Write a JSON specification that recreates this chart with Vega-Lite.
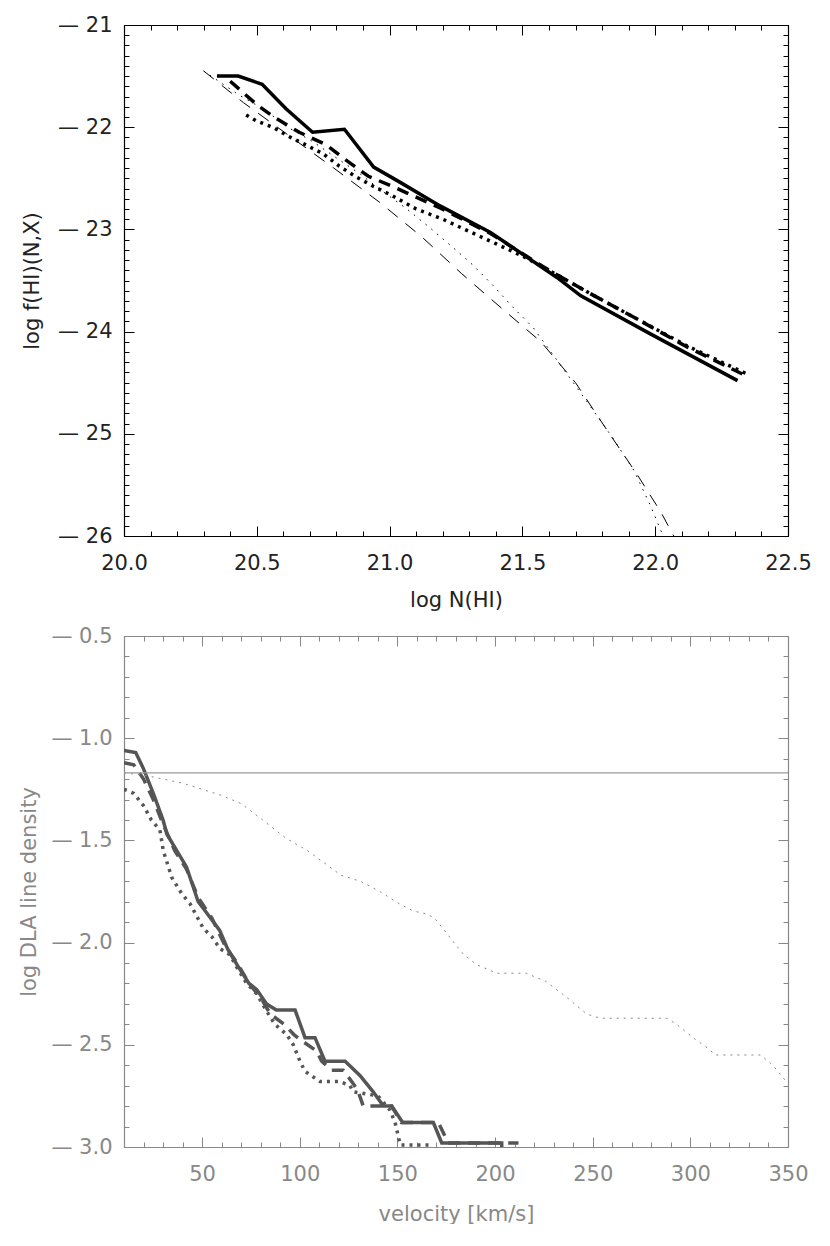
{
  "$schema": "https://vega.github.io/schema/vega-lite/v6.json",
  "padding": {"left": 18, "top": 14, "right": 0, "bottom": 0},
  "background": "white",
  "config": {
    "view": {"stroke": null},
    "axis": {"labelFont": "DejaVu Sans", "titleFont": "DejaVu Sans", "labelFontSize": 21, "titleFontSize": 21, "labelFontWeight": "normal", "titleFontWeight": "normal", "grid": false, "labelFlush": false, "labelOverlap": false}
  },
  "spacing": 100,
  "bounds": "flush",
  "datasets": {
    "top": [
      {"s": "A", "i": 0, "x": 20.35, "y": -21.50},
      {"s": "A", "i": 1, "x": 20.43, "y": -21.50},
      {"s": "A", "i": 2, "x": 20.52, "y": -21.58},
      {"s": "A", "i": 3, "x": 20.61, "y": -21.82},
      {"s": "A", "i": 4, "x": 20.71, "y": -22.05},
      {"s": "A", "i": 5, "x": 20.83, "y": -22.02},
      {"s": "A", "i": 6, "x": 20.94, "y": -22.39},
      {"s": "A", "i": 7, "x": 21.04, "y": -22.54},
      {"s": "A", "i": 8, "x": 21.19, "y": -22.77},
      {"s": "A", "i": 9, "x": 21.38, "y": -23.03},
      {"s": "A", "i": 10, "x": 21.63, "y": -23.47},
      {"s": "A", "i": 11, "x": 21.72, "y": -23.65},
      {"s": "A", "i": 12, "x": 21.98, "y": -24.02},
      {"s": "A", "i": 13, "x": 22.31, "y": -24.48},
      {"s": "B", "i": 0, "x": 20.40, "y": -21.55},
      {"s": "B", "i": 1, "x": 20.50, "y": -21.78},
      {"s": "B", "i": 2, "x": 20.57, "y": -21.91},
      {"s": "B", "i": 3, "x": 20.66, "y": -22.05},
      {"s": "B", "i": 4, "x": 20.76, "y": -22.17},
      {"s": "B", "i": 5, "x": 20.84, "y": -22.33},
      {"s": "B", "i": 6, "x": 20.92, "y": -22.48},
      {"s": "B", "i": 7, "x": 21.02, "y": -22.59},
      {"s": "B", "i": 8, "x": 21.19, "y": -22.79},
      {"s": "B", "i": 9, "x": 21.38, "y": -23.04},
      {"s": "B", "i": 10, "x": 21.60, "y": -23.40},
      {"s": "B", "i": 11, "x": 21.75, "y": -23.62},
      {"s": "B", "i": 12, "x": 21.92, "y": -23.86},
      {"s": "B", "i": 13, "x": 22.12, "y": -24.15},
      {"s": "B", "i": 14, "x": 22.34, "y": -24.43},
      {"s": "C", "i": 0, "x": 20.46, "y": -21.88},
      {"s": "C", "i": 1, "x": 20.50, "y": -21.94},
      {"s": "C", "i": 2, "x": 20.56, "y": -22.00},
      {"s": "C", "i": 3, "x": 20.62, "y": -22.09},
      {"s": "C", "i": 4, "x": 20.69, "y": -22.18},
      {"s": "C", "i": 5, "x": 20.75, "y": -22.26},
      {"s": "C", "i": 6, "x": 20.81, "y": -22.38},
      {"s": "C", "i": 7, "x": 20.87, "y": -22.48},
      {"s": "C", "i": 8, "x": 20.94, "y": -22.58},
      {"s": "C", "i": 9, "x": 21.01, "y": -22.67},
      {"s": "C", "i": 10, "x": 21.10, "y": -22.80},
      {"s": "C", "i": 11, "x": 21.20, "y": -22.90},
      {"s": "C", "i": 12, "x": 21.30, "y": -23.02},
      {"s": "C", "i": 13, "x": 21.40, "y": -23.14},
      {"s": "C", "i": 14, "x": 21.50, "y": -23.26},
      {"s": "C", "i": 15, "x": 21.60, "y": -23.40},
      {"s": "C", "i": 16, "x": 21.75, "y": -23.62},
      {"s": "C", "i": 17, "x": 21.92, "y": -23.86},
      {"s": "C", "i": 18, "x": 22.12, "y": -24.14},
      {"s": "C", "i": 19, "x": 22.35, "y": -24.42},
      {"s": "D", "i": 0, "x": 20.30, "y": -21.45},
      {"s": "D", "i": 1, "x": 20.45, "y": -21.76},
      {"s": "D", "i": 2, "x": 20.62, "y": -22.08},
      {"s": "D", "i": 3, "x": 20.79, "y": -22.40},
      {"s": "D", "i": 4, "x": 20.96, "y": -22.73},
      {"s": "D", "i": 5, "x": 21.12, "y": -23.07},
      {"s": "D", "i": 6, "x": 21.27, "y": -23.43},
      {"s": "D", "i": 7, "x": 21.43, "y": -23.79},
      {"s": "D", "i": 8, "x": 21.57, "y": -24.10},
      {"s": "D", "i": 9, "x": 21.70, "y": -24.50},
      {"s": "D", "i": 10, "x": 21.82, "y": -24.97},
      {"s": "D", "i": 11, "x": 21.93, "y": -25.39},
      {"s": "D", "i": 12, "x": 22.02, "y": -25.76},
      {"s": "D", "i": 13, "x": 22.07, "y": -26.00},
      {"s": "D", "i": 14, "x": 22.09, "y": -26.10},
      {"s": "E", "i": 0, "x": 20.30, "y": -21.45},
      {"s": "E", "i": 1, "x": 20.43, "y": -21.68},
      {"s": "E", "i": 2, "x": 20.53, "y": -21.83},
      {"s": "E", "i": 3, "x": 20.61, "y": -21.99},
      {"s": "E", "i": 4, "x": 20.71, "y": -22.14},
      {"s": "E", "i": 5, "x": 20.80, "y": -22.30},
      {"s": "E", "i": 6, "x": 20.89, "y": -22.46},
      {"s": "E", "i": 7, "x": 20.97, "y": -22.62},
      {"s": "E", "i": 8, "x": 21.06, "y": -22.79},
      {"s": "E", "i": 9, "x": 21.15, "y": -22.98},
      {"s": "E", "i": 10, "x": 21.24, "y": -23.18},
      {"s": "E", "i": 11, "x": 21.31, "y": -23.34},
      {"s": "E", "i": 12, "x": 21.39, "y": -23.55},
      {"s": "E", "i": 13, "x": 21.46, "y": -23.75},
      {"s": "E", "i": 14, "x": 21.54, "y": -23.96},
      {"s": "E", "i": 15, "x": 21.65, "y": -24.35},
      {"s": "E", "i": 16, "x": 21.75, "y": -24.71},
      {"s": "E", "i": 17, "x": 21.84, "y": -25.04},
      {"s": "E", "i": 18, "x": 21.92, "y": -25.36},
      {"s": "E", "i": 19, "x": 21.98, "y": -25.69},
      {"s": "E", "i": 20, "x": 22.03, "y": -26.00},
      {"s": "E", "i": 21, "x": 22.05, "y": -26.10}
    ],
    "bot": [
      {"s": "H", "i": 0, "x": 10, "y": -1.17},
      {"s": "H", "i": 1, "x": 350, "y": -1.17},
      {"s": "S", "i": 0, "x": 10, "y": -1.06},
      {"s": "S", "i": 1, "x": 16, "y": -1.07},
      {"s": "S", "i": 2, "x": 20, "y": -1.15},
      {"s": "S", "i": 3, "x": 25, "y": -1.27},
      {"s": "S", "i": 4, "x": 30, "y": -1.40},
      {"s": "S", "i": 5, "x": 32, "y": -1.47},
      {"s": "S", "i": 6, "x": 37, "y": -1.55},
      {"s": "S", "i": 7, "x": 42, "y": -1.63},
      {"s": "S", "i": 8, "x": 48, "y": -1.80},
      {"s": "S", "i": 9, "x": 52, "y": -1.85},
      {"s": "S", "i": 10, "x": 59, "y": -1.94},
      {"s": "S", "i": 11, "x": 63, "y": -2.03},
      {"s": "S", "i": 12, "x": 68, "y": -2.11},
      {"s": "S", "i": 13, "x": 74, "y": -2.20},
      {"s": "S", "i": 14, "x": 78, "y": -2.23},
      {"s": "S", "i": 15, "x": 83, "y": -2.30},
      {"s": "S", "i": 16, "x": 88, "y": -2.33},
      {"s": "S", "i": 17, "x": 97.6, "y": -2.33},
      {"s": "S", "i": 18, "x": 102.7, "y": -2.465},
      {"s": "S", "i": 19, "x": 107.8, "y": -2.465},
      {"s": "S", "i": 20, "x": 112.9, "y": -2.58},
      {"s": "S", "i": 21, "x": 123.2, "y": -2.58},
      {"s": "S", "i": 22, "x": 130.8, "y": -2.65},
      {"s": "S", "i": 23, "x": 137.6, "y": -2.73},
      {"s": "S", "i": 24, "x": 142.8, "y": -2.80},
      {"s": "S", "i": 25, "x": 147.1, "y": -2.80},
      {"s": "S", "i": 26, "x": 152.7, "y": -2.88},
      {"s": "S", "i": 27, "x": 168.4, "y": -2.88},
      {"s": "S", "i": 28, "x": 172.7, "y": -2.98},
      {"s": "S", "i": 29, "x": 203.4, "y": -2.98},
      {"s": "S", "i": 30, "x": 203.5, "y": -3.05},
      {"s": "D", "i": 0, "x": 10, "y": -1.12},
      {"s": "D", "i": 1, "x": 15, "y": -1.13},
      {"s": "D", "i": 2, "x": 20, "y": -1.20},
      {"s": "D", "i": 3, "x": 25, "y": -1.30},
      {"s": "D", "i": 4, "x": 30, "y": -1.42},
      {"s": "D", "i": 5, "x": 36, "y": -1.55},
      {"s": "D", "i": 6, "x": 42, "y": -1.64},
      {"s": "D", "i": 7, "x": 48, "y": -1.78},
      {"s": "D", "i": 8, "x": 55, "y": -1.88},
      {"s": "D", "i": 9, "x": 62, "y": -2.02},
      {"s": "D", "i": 10, "x": 68, "y": -2.10},
      {"s": "D", "i": 11, "x": 74, "y": -2.20},
      {"s": "D", "i": 12, "x": 80, "y": -2.27},
      {"s": "D", "i": 13, "x": 85, "y": -2.35},
      {"s": "D", "i": 14, "x": 92, "y": -2.40},
      {"s": "D", "i": 15, "x": 97, "y": -2.45},
      {"s": "D", "i": 16, "x": 101, "y": -2.48},
      {"s": "D", "i": 17, "x": 108.6, "y": -2.53},
      {"s": "D", "i": 18, "x": 111.2, "y": -2.58},
      {"s": "D", "i": 19, "x": 116.3, "y": -2.625},
      {"s": "D", "i": 20, "x": 122.3, "y": -2.625},
      {"s": "D", "i": 21, "x": 127.4, "y": -2.69},
      {"s": "D", "i": 22, "x": 130, "y": -2.73},
      {"s": "D", "i": 23, "x": 132.5, "y": -2.80},
      {"s": "D", "i": 24, "x": 147, "y": -2.80},
      {"s": "D", "i": 25, "x": 152, "y": -2.88},
      {"s": "D", "i": 26, "x": 171, "y": -2.88},
      {"s": "D", "i": 27, "x": 176, "y": -2.98},
      {"s": "D", "i": 28, "x": 212, "y": -2.98},
      {"s": "P", "i": 0, "x": 10, "y": -1.25},
      {"s": "P", "i": 1, "x": 15, "y": -1.27},
      {"s": "P", "i": 2, "x": 20, "y": -1.33},
      {"s": "P", "i": 3, "x": 24, "y": -1.40},
      {"s": "P", "i": 4, "x": 28.4, "y": -1.45},
      {"s": "P", "i": 5, "x": 30.1, "y": -1.55},
      {"s": "P", "i": 6, "x": 34.4, "y": -1.68},
      {"s": "P", "i": 7, "x": 39.5, "y": -1.76},
      {"s": "P", "i": 8, "x": 43.8, "y": -1.81},
      {"s": "P", "i": 9, "x": 50.6, "y": -1.93},
      {"s": "P", "i": 10, "x": 54.9, "y": -1.97},
      {"s": "P", "i": 11, "x": 59.2, "y": -2.03},
      {"s": "P", "i": 12, "x": 64.3, "y": -2.06},
      {"s": "P", "i": 13, "x": 67.7, "y": -2.12},
      {"s": "P", "i": 14, "x": 72.8, "y": -2.20},
      {"s": "P", "i": 15, "x": 77.9, "y": -2.25},
      {"s": "P", "i": 16, "x": 83, "y": -2.335},
      {"s": "P", "i": 17, "x": 87.3, "y": -2.40},
      {"s": "P", "i": 18, "x": 93.3, "y": -2.45},
      {"s": "P", "i": 19, "x": 96.7, "y": -2.50},
      {"s": "P", "i": 20, "x": 100.1, "y": -2.58},
      {"s": "P", "i": 21, "x": 102.7, "y": -2.63},
      {"s": "P", "i": 22, "x": 110.4, "y": -2.68},
      {"s": "P", "i": 23, "x": 120.6, "y": -2.68},
      {"s": "P", "i": 24, "x": 125.7, "y": -2.70},
      {"s": "P", "i": 25, "x": 127.4, "y": -2.73},
      {"s": "P", "i": 26, "x": 140, "y": -2.75},
      {"s": "P", "i": 27, "x": 146.2, "y": -2.82},
      {"s": "P", "i": 28, "x": 148.8, "y": -2.88},
      {"s": "P", "i": 29, "x": 150.5, "y": -2.95},
      {"s": "P", "i": 30, "x": 151.5, "y": -2.99},
      {"s": "P", "i": 31, "x": 168, "y": -2.99},
      {"s": "T", "i": 0, "x": 10, "y": -1.17},
      {"s": "T", "i": 1, "x": 20, "y": -1.18},
      {"s": "T", "i": 2, "x": 30, "y": -1.20},
      {"s": "T", "i": 3, "x": 40, "y": -1.22},
      {"s": "T", "i": 4, "x": 50, "y": -1.25},
      {"s": "T", "i": 5, "x": 60, "y": -1.28},
      {"s": "T", "i": 6, "x": 70, "y": -1.32},
      {"s": "T", "i": 7, "x": 81, "y": -1.40},
      {"s": "T", "i": 8, "x": 93, "y": -1.49},
      {"s": "T", "i": 9, "x": 104, "y": -1.55},
      {"s": "T", "i": 10, "x": 114, "y": -1.62},
      {"s": "T", "i": 11, "x": 121, "y": -1.67},
      {"s": "T", "i": 12, "x": 131, "y": -1.70},
      {"s": "T", "i": 13, "x": 141, "y": -1.75},
      {"s": "T", "i": 14, "x": 151, "y": -1.81},
      {"s": "T", "i": 15, "x": 158, "y": -1.845},
      {"s": "T", "i": 16, "x": 165, "y": -1.86},
      {"s": "T", "i": 17, "x": 169, "y": -1.88},
      {"s": "T", "i": 18, "x": 174, "y": -1.94},
      {"s": "T", "i": 19, "x": 179, "y": -2.00},
      {"s": "T", "i": 20, "x": 184, "y": -2.06},
      {"s": "T", "i": 21, "x": 191, "y": -2.11},
      {"s": "T", "i": 22, "x": 201, "y": -2.15},
      {"s": "T", "i": 23, "x": 216, "y": -2.15},
      {"s": "T", "i": 24, "x": 226, "y": -2.19},
      {"s": "T", "i": 25, "x": 237, "y": -2.27},
      {"s": "T", "i": 26, "x": 247, "y": -2.35},
      {"s": "T", "i": 27, "x": 254, "y": -2.37},
      {"s": "T", "i": 28, "x": 288, "y": -2.37},
      {"s": "T", "i": 29, "x": 293, "y": -2.40},
      {"s": "T", "i": 30, "x": 302, "y": -2.47},
      {"s": "T", "i": 31, "x": 308, "y": -2.51},
      {"s": "T", "i": 32, "x": 313, "y": -2.55},
      {"s": "T", "i": 33, "x": 336, "y": -2.55},
      {"s": "T", "i": 34, "x": 341, "y": -2.59},
      {"s": "T", "i": 35, "x": 344, "y": -2.62},
      {"s": "T", "i": 36, "x": 350, "y": -2.69}
    ]
  },
  "vconcat": [
    {
      "width": 664,
      "height": 511,
      "data": {"name": "top"},
      "resolve": {"axis": {"x": "independent", "y": "independent"}},
      "layer": [
        {
          "transform": [{"filter": "datum.s === 'A'"}],
          "mark": {"type": "line", "clip": true, "color": "black", "strokeWidth": 3.5},
          "encoding": {
            "x": {"field": "x", "type": "quantitative", "scale": {"domain": [20, 22.5], "nice": false, "zero": false},
              "axis": {"orient": "bottom", "values": [20, 20.5, 21, 21.5, 22, 22.5], "format": ".1f", "ticks": false, "domain": true, "domainColor": "black", "domainWidth": 1.2, "labelPadding": 16, "labelColor": "#222", "title": "log N(HI)", "titleColor": "#222", "titlePadding": 16}},
            "y": {"field": "y", "type": "quantitative", "scale": {"domain": [-26, -21], "nice": false, "zero": false},
              "axis": {"orient": "left", "values": [-26, -25, -24, -23, -22, -21], "labelExpr": "'\u2014 ' + format(abs(datum.value), 'd')", "ticks": false, "domain": true, "domainColor": "black", "domainWidth": 1.2, "labelPadding": 12, "labelColor": "#222", "title": "log f(HI)(N,X)", "titleColor": "#222", "titlePadding": 15}},
            "order": {"field": "i"}
          }
        },
        {
          "transform": [{"filter": "datum.s === 'B'"}],
          "mark": {"type": "line", "clip": true, "color": "black", "strokeWidth": 3.5, "strokeDash": [12, 8]},
          "encoding": {"x": {"field": "x", "type": "quantitative", "axis": null}, "y": {"field": "y", "type": "quantitative", "axis": null}, "order": {"field": "i"}}
        },
        {
          "transform": [{"filter": "datum.s === 'C'"}],
          "mark": {"type": "line", "clip": true, "color": "black", "strokeWidth": 3.5, "strokeDash": [3, 5]},
          "encoding": {"x": {"field": "x", "type": "quantitative", "axis": null}, "y": {"field": "y", "type": "quantitative", "axis": null}, "order": {"field": "i"}}
        },
        {
          "transform": [{"filter": "datum.s === 'D'"}],
          "mark": {"type": "line", "clip": true, "color": "black", "strokeWidth": 1, "strokeDash": [13, 10]},
          "encoding": {"x": {"field": "x", "type": "quantitative", "axis": null}, "y": {"field": "y", "type": "quantitative", "axis": null}, "order": {"field": "i"}}
        },
        {
          "transform": [{"filter": "datum.s === 'E'"}],
          "mark": {"type": "line", "clip": true, "color": "black", "strokeWidth": 1, "strokeDash": [1.5, 6]},
          "encoding": {"x": {"field": "x", "type": "quantitative", "axis": null}, "y": {"field": "y", "type": "quantitative", "axis": null}, "order": {"field": "i"}}
        },
        {
          "mark": {"type": "point", "opacity": 0},
          "encoding": {
            "x": {"field": "x", "type": "quantitative", "axis": {"orient": "bottom", "values": [20, 20.5, 21, 21.5, 22, 22.5], "labels": false, "domain": false, "tickSize": -10, "tickColor": "black", "title": null}},
            "y": {"field": "y", "type": "quantitative", "axis": {"orient": "left", "values": [-26, -25, -24, -23, -22, -21], "labels": false, "domain": false, "tickSize": -10, "tickColor": "black", "title": null}}
          }
        },
        {
          "mark": {"type": "point", "opacity": 0},
          "encoding": {
            "x": {"field": "x", "type": "quantitative", "axis": {"orient": "bottom", "values": [20, 20.1, 20.2, 20.3, 20.4, 20.5, 20.6, 20.7, 20.8, 20.9, 21, 21.1, 21.2, 21.3, 21.4, 21.5, 21.6, 21.7, 21.8, 21.9, 22, 22.1, 22.2, 22.3, 22.4, 22.5], "labels": false, "domain": false, "tickSize": -5, "tickColor": "black", "title": null}},
            "y": {"field": "y", "type": "quantitative", "axis": {"orient": "left", "values": [-26, -25.9, -25.8, -25.7, -25.6, -25.5, -25.4, -25.3, -25.2, -25.1, -25, -24.9, -24.8, -24.7, -24.6, -24.5, -24.4, -24.3, -24.2, -24.1, -24, -23.9, -23.8, -23.7, -23.6, -23.5, -23.4, -23.3, -23.2, -23.1, -23, -22.9, -22.8, -22.7, -22.6, -22.5, -22.4, -22.3, -22.2, -22.1, -22, -21.9, -21.8, -21.7, -21.6, -21.5, -21.4, -21.3, -21.2, -21.1, -21], "labels": false, "domain": false, "tickSize": -5, "tickColor": "black", "title": null}}
          }
        },
        {
          "mark": {"type": "point", "opacity": 0},
          "encoding": {
            "x": {"field": "x", "type": "quantitative", "axis": {"orient": "top", "values": [20, 20.5, 21, 21.5, 22, 22.5], "labels": false, "domain": true, "domainColor": "black", "domainWidth": 1.2, "tickSize": -10, "tickColor": "black", "title": null}},
            "y": {"field": "y", "type": "quantitative", "axis": {"orient": "right", "values": [-26, -25, -24, -23, -22, -21], "labels": false, "domain": true, "domainColor": "black", "domainWidth": 1.2, "tickSize": -10, "tickColor": "black", "title": null}}
          }
        },
        {
          "mark": {"type": "point", "opacity": 0},
          "encoding": {
            "x": {"field": "x", "type": "quantitative", "axis": {"orient": "top", "values": [20, 20.1, 20.2, 20.3, 20.4, 20.5, 20.6, 20.7, 20.8, 20.9, 21, 21.1, 21.2, 21.3, 21.4, 21.5, 21.6, 21.7, 21.8, 21.9, 22, 22.1, 22.2, 22.3, 22.4, 22.5], "labels": false, "domain": false, "tickSize": -5, "tickColor": "black", "title": null}},
            "y": {"field": "y", "type": "quantitative", "axis": {"orient": "right", "values": [-26, -25.9, -25.8, -25.7, -25.6, -25.5, -25.4, -25.3, -25.2, -25.1, -25, -24.9, -24.8, -24.7, -24.6, -24.5, -24.4, -24.3, -24.2, -24.1, -24, -23.9, -23.8, -23.7, -23.6, -23.5, -23.4, -23.3, -23.2, -23.1, -23, -22.9, -22.8, -22.7, -22.6, -22.5, -22.4, -22.3, -22.2, -22.1, -22, -21.9, -21.8, -21.7, -21.6, -21.5, -21.4, -21.3, -21.2, -21.1, -21], "labels": false, "domain": false, "tickSize": -5, "tickColor": "black", "title": null}}
          }
        }
      ]
    },
    {
      "width": 664,
      "height": 511,
      "data": {"name": "bot"},
      "resolve": {"axis": {"x": "independent", "y": "independent"}},
      "layer": [
        {
          "transform": [{"filter": "datum.s === 'S'"}],
          "mark": {"type": "line", "clip": true, "color": "#555555", "strokeWidth": 3.5},
          "encoding": {
            "x": {"field": "x", "type": "quantitative", "scale": {"domain": [10, 350], "nice": false, "zero": false},
              "axis": {"orient": "bottom", "values": [50, 100, 150, 200, 250, 300, 350], "format": "d", "ticks": false, "domain": true, "domainColor": "#888", "domainWidth": 1.2, "labelPadding": 16, "labelColor": "#888", "title": "velocity [km/s]", "titleColor": "#888", "titlePadding": 19}},
            "y": {"field": "y", "type": "quantitative", "scale": {"domain": [-3, -0.5], "nice": false, "zero": false},
              "axis": {"orient": "left", "values": [-3, -2.5, -2, -1.5, -1, -0.5], "labelExpr": "'\u2014 ' + format(abs(datum.value), '.1f')", "ticks": false, "domain": true, "domainColor": "#888", "domainWidth": 1.2, "labelPadding": 12, "labelColor": "#888", "title": "log DLA line density", "titleColor": "#888", "titlePadding": 11}},
            "order": {"field": "i"}
          }
        },
        {
          "transform": [{"filter": "datum.s === 'D'"}],
          "mark": {"type": "line", "clip": true, "color": "#555555", "strokeWidth": 3.5, "strokeDash": [12, 8]},
          "encoding": {"x": {"field": "x", "type": "quantitative", "axis": null}, "y": {"field": "y", "type": "quantitative", "axis": null}, "order": {"field": "i"}}
        },
        {
          "transform": [{"filter": "datum.s === 'P'"}],
          "mark": {"type": "line", "clip": true, "color": "#555555", "strokeWidth": 3.5, "strokeDash": [3, 5]},
          "encoding": {"x": {"field": "x", "type": "quantitative", "axis": null}, "y": {"field": "y", "type": "quantitative", "axis": null}, "order": {"field": "i"}}
        },
        {
          "transform": [{"filter": "datum.s === 'T'"}],
          "mark": {"type": "line", "clip": true, "color": "#888888", "strokeWidth": 1, "strokeDash": [2, 5]},
          "encoding": {"x": {"field": "x", "type": "quantitative", "axis": null}, "y": {"field": "y", "type": "quantitative", "axis": null}, "order": {"field": "i"}}
        },
        {
          "transform": [{"filter": "datum.s === 'H'"}],
          "mark": {"type": "line", "clip": true, "color": "#999999", "strokeWidth": 1.2},
          "encoding": {"x": {"field": "x", "type": "quantitative", "axis": null}, "y": {"field": "y", "type": "quantitative", "axis": null}, "order": {"field": "i"}}
        },
        {
          "mark": {"type": "point", "opacity": 0},
          "encoding": {
            "x": {"field": "x", "type": "quantitative", "axis": {"orient": "bottom", "values": [50, 100, 150, 200, 250, 300, 350], "labels": false, "domain": false, "tickSize": -10, "tickColor": "#888", "title": null}},
            "y": {"field": "y", "type": "quantitative", "axis": {"orient": "left", "values": [-3, -2.5, -2, -1.5, -1, -0.5], "labels": false, "domain": false, "tickSize": -10, "tickColor": "#888", "title": null}}
          }
        },
        {
          "mark": {"type": "point", "opacity": 0},
          "encoding": {
            "x": {"field": "x", "type": "quantitative", "axis": {"orient": "bottom", "values": [10, 20, 30, 40, 50, 60, 70, 80, 90, 100, 110, 120, 130, 140, 150, 160, 170, 180, 190, 200, 210, 220, 230, 240, 250, 260, 270, 280, 290, 300, 310, 320, 330, 340, 350], "labels": false, "domain": false, "tickSize": -5, "tickColor": "#888", "title": null}},
            "y": {"field": "y", "type": "quantitative", "axis": {"orient": "left", "values": [-3, -2.9, -2.8, -2.7, -2.6, -2.5, -2.4, -2.3, -2.2, -2.1, -2, -1.9, -1.8, -1.7, -1.6, -1.5, -1.4, -1.3, -1.2, -1.1, -1, -0.9, -0.8, -0.7, -0.6, -0.5], "labels": false, "domain": false, "tickSize": -5, "tickColor": "#888", "title": null}}
          }
        },
        {
          "mark": {"type": "point", "opacity": 0},
          "encoding": {
            "x": {"field": "x", "type": "quantitative", "axis": {"orient": "top", "values": [50, 100, 150, 200, 250, 300, 350], "labels": false, "domain": true, "domainColor": "#888", "domainWidth": 1.2, "tickSize": -10, "tickColor": "#888", "title": null}},
            "y": {"field": "y", "type": "quantitative", "axis": {"orient": "right", "values": [-3, -2.5, -2, -1.5, -1, -0.5], "labels": false, "domain": true, "domainColor": "#888", "domainWidth": 1.2, "tickSize": -10, "tickColor": "#888", "title": null}}
          }
        },
        {
          "mark": {"type": "point", "opacity": 0},
          "encoding": {
            "x": {"field": "x", "type": "quantitative", "axis": {"orient": "top", "values": [10, 20, 30, 40, 50, 60, 70, 80, 90, 100, 110, 120, 130, 140, 150, 160, 170, 180, 190, 200, 210, 220, 230, 240, 250, 260, 270, 280, 290, 300, 310, 320, 330, 340, 350], "labels": false, "domain": false, "tickSize": -5, "tickColor": "#888", "title": null}},
            "y": {"field": "y", "type": "quantitative", "axis": {"orient": "right", "values": [-3, -2.9, -2.8, -2.7, -2.6, -2.5, -2.4, -2.3, -2.2, -2.1, -2, -1.9, -1.8, -1.7, -1.6, -1.5, -1.4, -1.3, -1.2, -1.1, -1, -0.9, -0.8, -0.7, -0.6, -0.5], "labels": false, "domain": false, "tickSize": -5, "tickColor": "#888", "title": null}}
          }
        }
      ]
    }
  ]
}
